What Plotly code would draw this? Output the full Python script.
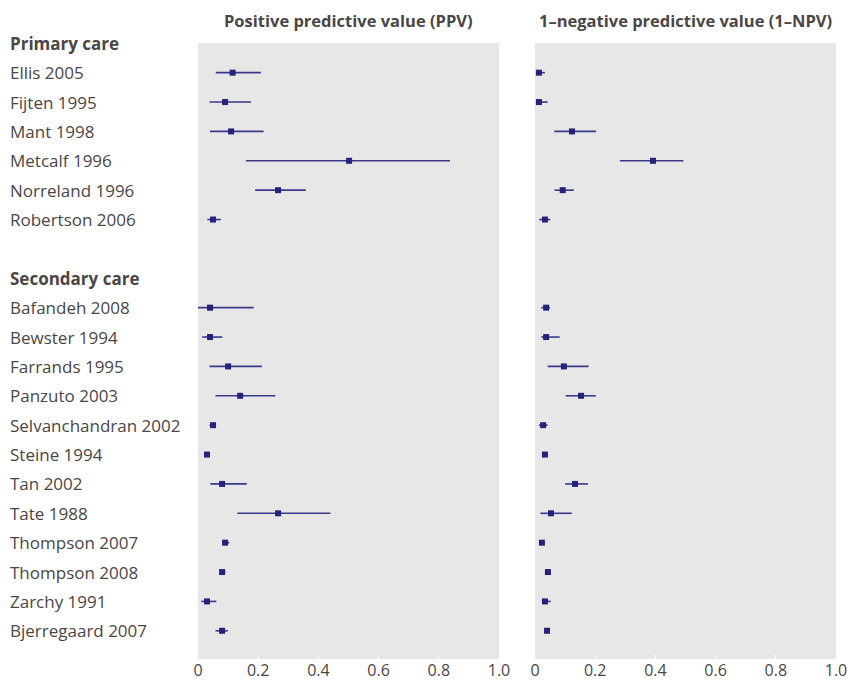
import plotly.graph_objects as go

# ---- data ----
primary_studies = ["Ellis 2005", "Fijten 1995", "Mant 1998", "Metcalf 1996",
                   "Norreland 1996", "Robertson 2006"]
secondary_studies = ["Bafandeh 2008", "Bewster 1994", "Farrands 1995", "Panzuto 2003",
                     "Selvanchandran 2002", "Steine 1994", "Tan 2002", "Tate 1988",
                     "Thompson 2007", "Thompson 2008", "Zarchy 1991", "Bjerregaard 2007"]
group_headers = ["Primary care", "Secondary care"]

ppv_primary = [0.115, 0.090, 0.110, 0.502, 0.266, 0.050]
ppv_primary_lo = [0.059, 0.038, 0.040, 0.159, 0.190, 0.031]
ppv_primary_hi = [0.209, 0.176, 0.218, 0.837, 0.358, 0.076]
ppv_secondary = [0.040, 0.040, 0.100, 0.140, 0.050, 0.030, 0.080, 0.266, 0.090, 0.080, 0.030, 0.080]
ppv_secondary_lo = [0.000, 0.014, 0.038, 0.058, 0.038, 0.026, 0.041, 0.131, 0.082, 0.072, 0.011, 0.058]
ppv_secondary_hi = [0.185, 0.081, 0.212, 0.257, 0.058, 0.034, 0.162, 0.440, 0.104, 0.091, 0.061, 0.099]

npv_primary = [0.013, 0.013, 0.123, 0.392, 0.092, 0.033]
npv_primary_lo = [0.003, 0.003, 0.064, 0.282, 0.065, 0.014]
npv_primary_hi = [0.033, 0.042, 0.203, 0.493, 0.129, 0.051]
npv_secondary = [0.037, 0.037, 0.096, 0.153, 0.027, 0.033, 0.133, 0.053, 0.023, 0.043, 0.033, 0.040]
npv_secondary_lo = [0.021, 0.021, 0.042, 0.102, 0.013, 0.030, 0.100, 0.018, 0.020, 0.040, 0.025, 0.037]
npv_secondary_hi = [0.050, 0.082, 0.178, 0.202, 0.042, 0.036, 0.176, 0.122, 0.026, 0.046, 0.052, 0.043]

panel_titles = ["Positive predictive value (PPV)", "1\u2013negative predictive value (1\u2013NPV)"]
tick_vals = [0, 0.2, 0.4, 0.6, 0.8, 1.0]
tick_text = ["0", "0.2", "0.4", "0.6", "0.8", "1.0"]

# ---- row layout ----
primary_rows = [i + 1 for i in range(len(primary_studies))]
sec_header_row = len(primary_studies) + 2
secondary_rows = [sec_header_row + 1 + i for i in range(len(secondary_studies))]
rows = primary_rows + secondary_rows

ppv = ppv_primary + ppv_secondary
ppv_lo = ppv_primary_lo + ppv_secondary_lo
ppv_hi = ppv_primary_hi + ppv_secondary_hi
npv = npv_primary + npv_secondary
npv_lo = npv_primary_lo + npv_secondary_lo
npv_hi = npv_primary_hi + npv_secondary_hi

TEXT = "#4a4646"
MARK = "#24227a"
LINE = "#3a388a"
FONT = "Open Sans"

fig = go.Figure()

def add_panel(vals, lo, hi, xa, ya):
    fig.add_trace(go.Scatter(
        x=vals, y=rows, mode="markers", xaxis=xa, yaxis=ya,
        marker=dict(symbol="square", size=6, color=MARK, line=dict(width=0)),
        error_x=dict(type="data", symmetric=False,
                     array=[h - v for h, v in zip(hi, vals)],
                     arrayminus=[v - l for v, l in zip(vals, lo)],
                     color=LINE, thickness=1.6, width=0),
        showlegend=False, hoverinfo="skip", cliponaxis=False))

add_panel(ppv, ppv_lo, ppv_hi, "x", "y")
add_panel(npv, npv_lo, npv_hi, "x2", "y2")

W, H = 847, 680
ml, mr, mt, mb = 198, 11, 43, 21
pw = W - ml - mr
d1 = [0, (499 - ml) / pw]
d2 = [(535 - ml) / pw, 1]

yrange = [20.96, -0.01]
xcommon = dict(range=[0, 1], showgrid=False, zeroline=False, showline=False,
               ticks="inside", ticklen=4, tickwidth=1, tickcolor="white",
               tickvals=tick_vals, ticktext=tick_text, automargin=False,
               ticklabeloverflow="allow",
               tickfont=dict(family=FONT, size=16, color=TEXT), fixedrange=True)
ycommon = dict(range=yrange, showgrid=False, zeroline=False, showline=False,
               showticklabels=False, ticks="", fixedrange=True, automargin=False)

fig.update_layout(
    width=W, height=H, autosize=False,
    margin=dict(l=ml, r=mr, t=mt, b=mb, pad=0),
    paper_bgcolor="white", plot_bgcolor="#e7e7e7",
    xaxis=dict(domain=d1, anchor="y", **xcommon),
    xaxis2=dict(domain=d2, anchor="y2", **xcommon),
    yaxis=dict(domain=[0, 1], anchor="x", **ycommon),
    yaxis2=dict(domain=[0, 1], anchor="x2", **ycommon),
    font=dict(family=FONT, color=TEXT),
)

annotations = []
label_x = (8 - ml) / pw
annotations.append(dict(text="<b>%s</b>" % group_headers[0], x=label_x, y=0, xref="paper", yref="y",
                        xanchor="left", yanchor="middle", showarrow=False,
                        font=dict(family=FONT, size=17, color=TEXT)))
annotations.append(dict(text="<b>%s</b>" % group_headers[1], x=label_x, y=sec_header_row, xref="paper", yref="y",
                        xanchor="left", yanchor="middle", showarrow=False,
                        font=dict(family=FONT, size=17, color=TEXT)))
for name, r in zip(primary_studies + secondary_studies, rows):
    annotations.append(dict(text=name, x=label_x, y=r, xref="paper", yref="y",
                            xanchor="left", yanchor="middle", showarrow=False,
                            font=dict(family=FONT, size=17, color=TEXT)))
title_y = 1 + (mt - 21) / (H - mt - mb)
for t, d in zip(panel_titles, [d1, d2]):
    annotations.append(dict(text="<b>%s</b>" % t, x=(d[0] + d[1]) / 2, y=title_y,
                            xref="paper", yref="paper", xanchor="center", yanchor="middle",
                            showarrow=False, font=dict(family=FONT, size=16.5, color=TEXT)))
fig.update_layout(annotations=annotations)

fig.write_html("out.html",
               config={"displayModeBar": False, "responsive": False},
               post_script="document.body.style.margin='0';document.body.style.overflow='hidden';")
